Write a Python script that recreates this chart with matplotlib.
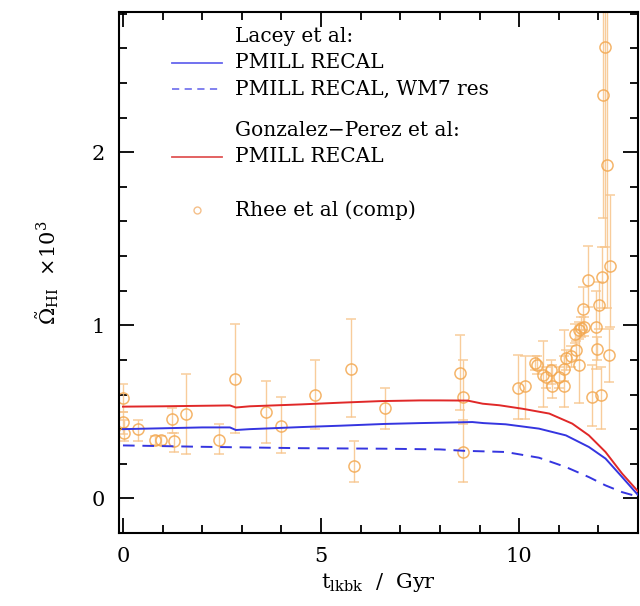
import matplotlib
matplotlib.use("Agg")
import matplotlib.pyplot as plt
from matplotlib.lines import Line2D
import numpy as np

plt.rcParams['font.family'] = ['DejaVu Serif']
plt.rcParams['mathtext.fontset'] = 'dejavuserif'

# Model curves
t_red = [0, 1, 2, 2.7, 2.85, 3.2, 4.5, 5.5, 6.5, 7.5, 8.0, 8.7, 9.08, 9.5, 10.08, 10.76, 11.34, 11.76, 12.18, 12.6, 12.94, 13.0]
v_red = [0.53, 0.532, 0.535, 0.537, 0.525, 0.532, 0.543, 0.553, 0.562, 0.566, 0.566, 0.565, 0.547, 0.538, 0.518, 0.49, 0.432, 0.364, 0.268, 0.143, 0.056, 0.04]

t_blue = [0, 1, 2, 2.7, 2.85, 3.2, 4.5, 5.5, 6.6, 7.5, 8.82, 9.1, 9.66, 10.5, 11.18, 11.76, 12.18, 12.6, 12.94, 13.0]
v_blue = [0.40, 0.405, 0.41, 0.41, 0.395, 0.40, 0.412, 0.42, 0.43, 0.435, 0.441, 0.435, 0.428, 0.403, 0.364, 0.297, 0.23, 0.123, 0.035, 0.02]

t_dash = [0, 2, 4.5, 6.6, 8.0, 8.6, 9.66, 10.5, 11.18, 11.76, 12.18, 12.6, 12.94, 13.0]
v_dash = [0.306, 0.298, 0.29, 0.287, 0.283, 0.275, 0.268, 0.235, 0.181, 0.123, 0.075, 0.036, 0.014, 0.01]

# Rhee et al (comp) data: t, value, lower, upper
obs_t = [0.0, 0.0, 0.02, 0.37, 0.82, 0.95, 1.24, 1.28, 1.60, 2.43, 2.84, 3.60, 4.00, 4.84,
         5.76, 5.84, 6.62, 8.50, 8.59, 8.59, 9.96, 10.14, 10.39, 10.46, 10.59, 10.67, 10.80,
         10.84, 11.00, 11.13, 11.13, 11.19, 11.30, 11.43, 11.51, 11.41, 11.50, 11.55, 11.64,
         11.62, 11.74, 11.85, 11.93, 11.97, 12.02, 12.08, 12.06, 12.29, 12.28, 12.17, 12.12, 12.22]
obs_v = [0.58, 0.44, 0.38, 0.40, 0.335, 0.335, 0.46, 0.33, 0.485, 0.34, 0.69, 0.50, 0.42, 0.595,
         0.75, 0.185, 0.52, 0.725, 0.585, 0.27, 0.64, 0.65, 0.78, 0.77, 0.71, 0.70, 0.74,
         0.65, 0.70, 0.65, 0.75, 0.81, 0.82, 0.855, 0.77, 0.95, 0.97, 0.985, 0.99,
         1.095, 1.26, 0.585, 0.99, 0.865, 1.115, 1.28, 0.595, 1.34, 0.83, 2.61, 2.33, 1.925]
obs_lo = [0.50, 0.37, 0.33, 0.33, 0.31, 0.31, 0.375, 0.27, 0.255, 0.255, 0.375, 0.32, 0.26, 0.40,
          0.47, 0.095, 0.40, 0.51, 0.43, 0.095, 0.46, 0.46, 0.74, 0.72, 0.53, 0.64, 0.66,
          0.58, 0.64, 0.53, 0.68, 0.74, 0.76, 0.80, 0.55, 0.90, 0.92, 0.93, 0.94,
          0.97, 1.105, 0.42, 0.75, 0.80, 0.98, 1.10, 0.40, 0.99, 0.67, 1.45, 1.62, 1.10]
obs_hi = [0.66, 0.50, 0.45, 0.45, 0.36, 0.36, 0.52, 0.375, 0.72, 0.43, 1.01, 0.68, 0.585, 0.80,
          1.035, 0.33, 0.64, 0.946, 0.80, 0.45, 0.83, 0.82, 0.82, 0.82, 0.91, 0.76, 0.80,
          0.77, 0.76, 0.97, 0.82, 0.86, 0.88, 0.91, 0.97, 1.01, 1.02, 1.05, 1.05,
          1.22, 1.46, 0.77, 1.20, 0.93, 1.25, 1.45, 0.76, 1.75, 0.98, 4.0, 3.2, 2.9]

xticks = [0, 5, 10]
yticks = [0, 1, 2]

W, H = 640, 606
fig = plt.figure(figsize=(W / 100, H / 100), dpi=100)
L, R, T, B = 119, 638, 12, 533
ax = fig.add_axes([L / W, (H - B) / H, (R - L) / W, (B - T) / H])

blue = '#3535e0'
red = '#e02828'
orange = '#f3a850'

obs_t_a = np.array(obs_t)
obs_v_a = np.array(obs_v)
yerr = [obs_v_a - np.array(obs_lo), np.array(obs_hi) - obs_v_a]
ax.errorbar(obs_t_a, obs_v_a, yerr=yerr, fmt='o', ms=8, mfc='none', mec=orange, mew=1.1,
            ecolor='#f7c48a', elinewidth=1.0, capsize=3.5, capthick=1.0, alpha=0.85, zorder=2)

ax.plot(t_red, v_red, color=red, lw=1.4, zorder=3)
ax.plot(t_blue, v_blue, color=blue, lw=1.4, zorder=3)
ax.plot(t_dash, v_dash, color=blue, lw=1.4, dashes=(6, 4), zorder=3)

ax.set_xlim(-0.1, 13.0)
ax.set_ylim(-0.2, 2.81)
ax.set_xticks(xticks)
ax.set_yticks(yticks)
ax.set_xticks(np.arange(0, 13.01, 1), minor=True)
ax.set_yticks(np.arange(-0.2, 2.81, 0.2), minor=True)
ax.tick_params(which='both', direction='in', top=True, right=True, width=1.3, labelsize=15, pad=10)
ax.tick_params(which='major', length=11)
ax.tick_params(which='minor', length=6)
for s in ax.spines.values():
    s.set_linewidth(1.5)

ax.set_xlabel(r'$\mathrm{t_{lkbk}}$  /  Gyr', fontsize=15, labelpad=4)
ax.set_ylabel(r'$\tilde{\Omega}_{\rm HI}$  $\times10^3$', fontsize=15, labelpad=22)

# legend drawn manually
def ax_xy(px, py):
    return (px - L) / (R - L), (B - py) / (B - T)

fs = 14.5
x_text = ax_xy(235, 0)[0]
x0, x1 = ax_xy(172, 0)[0], ax_xy(222, 0)[0]
rows = [
    (37, 'Lacey et al:', None),
    (63, 'PMILL RECAL', dict(color='#6666ee', lw=1.3)),
    (89, 'PMILL RECAL, WM7 res', dict(color='#7777ee', lw=1.3, dashes=(4, 3))),
    (130, 'Gonzalez\u2212Perez et al:', None),
    (157, 'PMILL RECAL', dict(color='#e05555', lw=1.3)),
]
for py, label, style in rows:
    y = ax_xy(0, py)[1]
    ax.text(x_text, y, label, transform=ax.transAxes, fontsize=fs, va='center', ha='left')
    if style is not None:
        ax.add_line(Line2D([x0, x1], [y, y], transform=ax.transAxes, **style))
y = ax_xy(0, 210)[1]
ax.text(x_text, y, 'Rhee et al (comp)', transform=ax.transAxes, fontsize=fs, va='center', ha='left')
ax.plot([(x0 + x1) / 2], [y], 'o', ms=5, mfc='none', mec='#f5c08a', mew=1.0, transform=ax.transAxes)

fig.savefig('out.png', dpi=100)
